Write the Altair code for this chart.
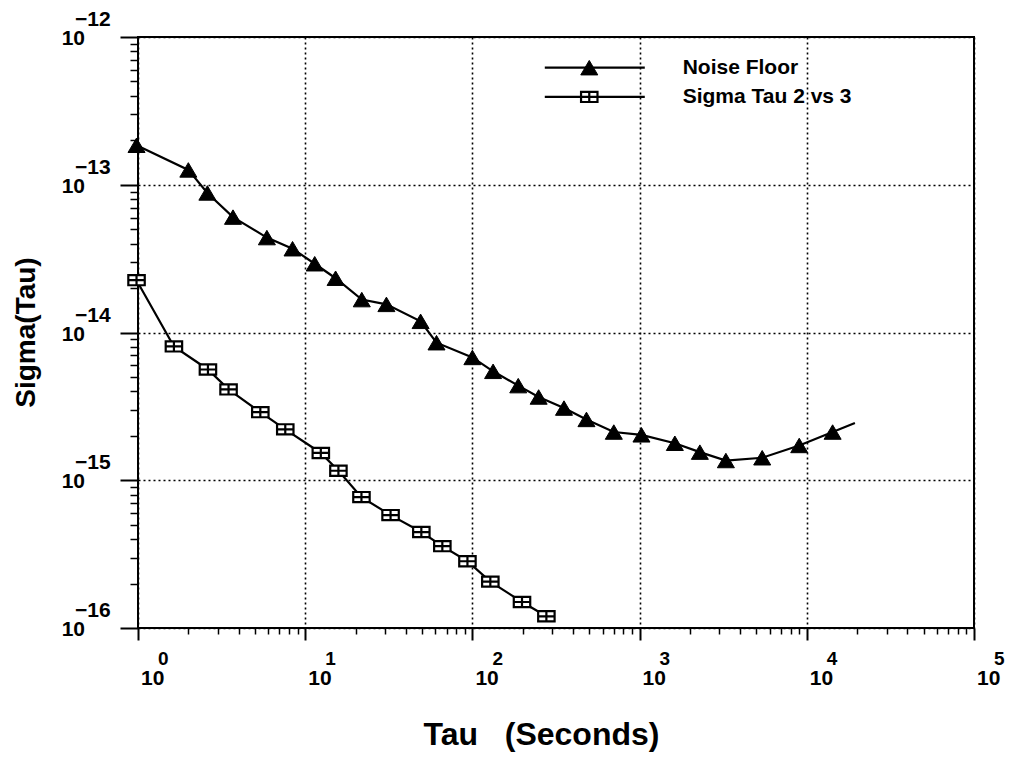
import altair as alt
import pandas as pd

# ---------------- data ----------------
noise_tau = [0.98, 2.0, 2.6, 3.7, 5.9, 8.4, 11.4, 15.2, 21.8, 30.6, 49, 61, 100, 133,
             188, 249, 353, 481, 701, 1026, 1625, 2293, 3281, 5410, 9010, 14270, 19400]
noise_sigma = [1.85e-13, 1.26e-13, 8.8e-14, 6.04e-14, 4.39e-14, 3.69e-14, 2.92e-14,
               2.33e-14, 1.67e-14, 1.55e-14, 1.19e-14, 8.53e-15, 6.78e-15, 5.46e-15,
               4.37e-15, 3.66e-15, 3.08e-15, 2.58e-15, 2.12e-15, 2.03e-15, 1.78e-15,
               1.55e-15, 1.36e-15, 1.42e-15, 1.72e-15, 2.12e-15, 2.44e-15]
noise_marked = [True] * 26 + [False]

sig_tau = [0.98, 1.64, 2.62, 3.48, 5.39, 7.6, 12.4, 15.8, 21.7, 32.4, 49.5, 66.1,
           93.4, 128, 198, 277]
sig_sigma = [2.26e-14, 8.05e-15, 5.62e-15, 4.12e-15, 2.89e-15, 2.21e-15, 1.53e-15,
             1.16e-15, 7.69e-16, 5.81e-16, 4.46e-16, 3.58e-16, 2.83e-16, 2.06e-16,
             1.50e-16, 1.20e-16]

x_major = [1, 10, 100, 1000, 10000, 100000]
x_exp = ["0", "1", "2", "3", "4", "5"]
x_minor = [m * 10 ** d for d in range(5) for m in range(2, 10)]

y_major = [1e-16, 1e-15, 1e-14, 1e-13, 1e-12]
y_exp = ["\u221216", "\u221215", "\u221214", "\u221213", "\u221212"]
y_minor = [m * 10.0 ** e for e in range(-16, -12) for m in range(2, 10)]

legend_labels = ["Noise Floor", "Sigma Tau 2 vs 3"]

# legend placement in data coordinates
leg_x0, leg_xm, leg_x1, leg_xt = 271, 500, 1074, 1810
leg_y = [6.2e-13, 3.93e-13]

X_DOM = [1, 1e5]
Y_DOM = [1e-16, 1e-12]
FONT = "Liberation Sans"

# ---------------- frames ----------------
noise_df = pd.DataFrame({"tau": noise_tau, "sigma": noise_sigma, "marked": noise_marked})
sig_df = pd.DataFrame({"tau": sig_tau, "sigma": sig_sigma})
xlab_df = pd.DataFrame({"tau": x_major, "exp": x_exp, "sigma": [Y_DOM[0]] * len(x_major)})
ylab_df = pd.DataFrame({"sigma": y_major, "exp": y_exp, "tau": [X_DOM[0]] * len(y_major)})
xminor_df = pd.DataFrame({"tau": x_minor})
yminor_df = pd.DataFrame({"sigma": y_minor})
leg_df = pd.DataFrame({"label": legend_labels, "y": leg_y,
                       "x0": [leg_x0] * 2, "xm": [leg_xm] * 2,
                       "x1": [leg_x1] * 2, "xt": [leg_xt] * 2})

xs = alt.Scale(type="log", domain=X_DOM, nice=False)
ys = alt.Scale(type="log", domain=Y_DOM, nice=False)

TRI = "M-1,0.85L1,0.85L0,-0.85Z"
SQ = "M-1,-0.62H1V0.62H-1Z M0,-0.62V0.62 M-1,0H1"
TRI_SIZE = 290
SQ_SIZE = 270

x_major_axis = alt.Axis(values=x_major, labels=False, tickSize=12, tickWidth=2,
                        tickColor="black", domain=False, grid=True, gridDash=[2, 3],
                        gridColor="black", gridWidth=1.6, gridOpacity=1,
                        title="Tau\u00a0\u00a0\u00a0(Seconds)", titleFont=FONT,
                        titleFontSize=32, titleFontWeight="bold", titleColor="black",
                        titleX=403, titleY=116, titleAlign="center",
                        titleBaseline="alphabetic", orient="bottom")
y_major_axis = alt.Axis(values=y_major, labels=False, tickSize=18, tickWidth=2,
                        tickColor="black", domain=False, grid=True, gridDash=[2, 3],
                        gridColor="black", gridWidth=1.6, gridOpacity=1,
                        title="Sigma(Tau)", titleFont=FONT, titleFontSize=28,
                        titleFontWeight="bold", titleColor="black", titleAngle=270,
                        titleX=-104, titleY=295, titleAlign="center",
                        titleBaseline="alphabetic", orient="left")

base_x = alt.X("tau:Q", scale=xs, axis=None)
base_y = alt.Y("sigma:Q", scale=ys, axis=None)

noise_line = alt.Chart(noise_df).mark_line(color="black", strokeWidth=2.2, clip=False).encode(
    x=alt.X("tau:Q", scale=xs, axis=x_major_axis),
    y=alt.Y("sigma:Q", scale=ys, axis=y_major_axis),
    order="tau:Q",
)
noise_pts = alt.Chart(noise_df).transform_filter("datum.marked").mark_point(
    shape=TRI, filled=True, fill="black", stroke="black", strokeWidth=1,
    size=TRI_SIZE, opacity=1, clip=False
).encode(x=base_x, y=base_y)

sig_line = alt.Chart(sig_df).mark_line(color="black", strokeWidth=2.2, clip=False).encode(
    x=base_x, y=base_y, order="tau:Q")
sig_pts = alt.Chart(sig_df).mark_point(
    shape=SQ, filled=True, fill="white", stroke="black", strokeWidth=2.2,
    size=SQ_SIZE, opacity=1, clip=False
).encode(x=base_x, y=base_y)

# minor ticks via secondary axes
xminor = alt.Chart(xminor_df).mark_point(opacity=0).encode(
    x=alt.X("tau:Q", scale=xs, axis=alt.Axis(values=x_minor, labels=False, tickSize=6,
                                              tickWidth=1.5, tickColor="black",
                                              domain=False, grid=False, title=None,
                                              orient="bottom")),
)
yminor = alt.Chart(yminor_df).mark_point(opacity=0).encode(
    y=alt.Y("sigma:Q", scale=ys, axis=alt.Axis(values=y_minor, labels=False, tickSize=8,
                                                tickWidth=1.5, tickColor="black",
                                                domain=False, grid=False, title=None,
                                                orient="left")),
)

# tick labels (10 with superscript exponent)
lab_style = dict(font=FONT, fontSize=21, fontWeight="bold", color="black")
exp_style = dict(font=FONT, fontSize=19, fontWeight="bold", color="black")
x_ten = alt.Chart(xlab_df).mark_text(align="left", baseline="alphabetic", dx=3, dy=57,
                                     text="10", **lab_style).encode(x=base_x, y=base_y)
x_pow = alt.Chart(xlab_df).mark_text(align="left", baseline="alphabetic", dx=20, dy=37,
                                     **exp_style).encode(x=base_x, y=base_y, text="exp:N")
y_ten = alt.Chart(ylab_df).mark_text(align="right", baseline="alphabetic", dx=-53, dy=8,
                                     text="10", **lab_style).encode(x=base_x, y=base_y)
y_pow = alt.Chart(ylab_df).mark_text(align="left", baseline="alphabetic", dx=-63, dy=-11,
                                     **lab_style).encode(x=base_x, y=base_y, text="exp:N")

# legend
leg_rule = alt.Chart(leg_df).mark_rule(color="black", strokeWidth=2.2).encode(
    x=alt.X("x0:Q", scale=xs, axis=None), x2="x1:Q",
    y=alt.Y("y:Q", scale=ys, axis=None))
leg_tri = alt.Chart(leg_df).transform_filter(
    alt.datum.label == legend_labels[0]).mark_point(
    shape=TRI, filled=True, fill="black", stroke="black", strokeWidth=1,
    size=TRI_SIZE, opacity=1).encode(x=alt.X("xm:Q", scale=xs, axis=None),
                                     y=alt.Y("y:Q", scale=ys, axis=None))
leg_sq = alt.Chart(leg_df).transform_filter(
    alt.datum.label == legend_labels[1]).mark_point(
    shape=SQ, filled=True, fill="white", stroke="black", strokeWidth=2.2,
    size=SQ_SIZE, opacity=1).encode(x=alt.X("xm:Q", scale=xs, axis=None),
                                    y=alt.Y("y:Q", scale=ys, axis=None))
leg_txt = alt.Chart(leg_df).mark_text(align="left", baseline="middle", font=FONT,
                                      fontSize=21, fontWeight="bold", color="black").encode(
    x=alt.X("xt:Q", scale=xs, axis=None), y=alt.Y("y:Q", scale=ys, axis=None),
    text="label:N")

chart = alt.layer(
    noise_line, xminor, yminor, noise_pts, sig_line, sig_pts,
    x_ten, x_pow, y_ten, y_pow, leg_rule, leg_tri, leg_sq, leg_txt
).resolve_axis(x="independent", y="independent").properties(
    width=836, height=591,
    padding={"left": 130, "top": 29, "right": 31, "bottom": 125},
    autosize=alt.AutoSizeParams(type="none"),
    background="white",
).configure_view(stroke="black", strokeWidth=2)

chart.save("out.html", embed_options={"renderer": "svg", "actions": False})
